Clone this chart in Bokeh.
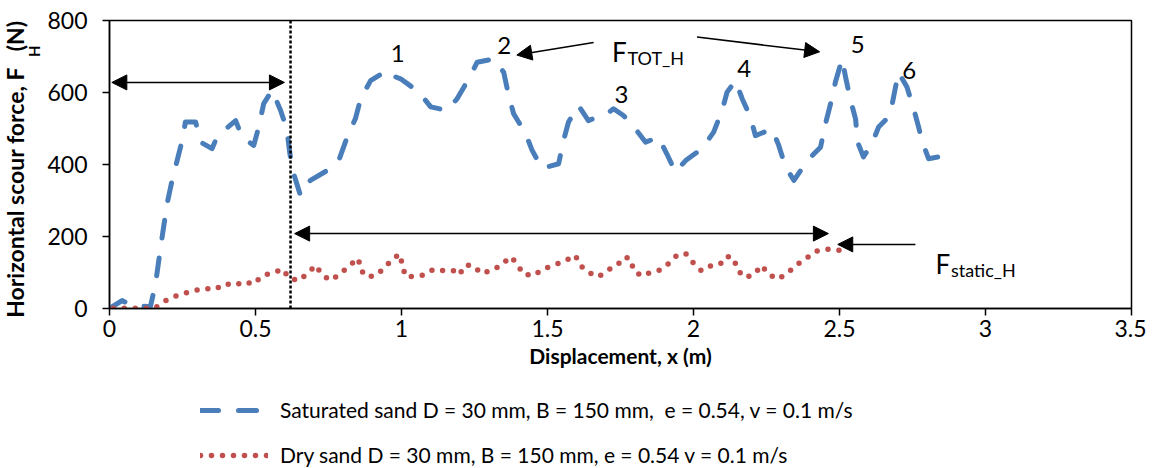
from bokeh.plotting import figure
from bokeh.layouts import column
from bokeh.models import (Range1d, Span, Arrow, NormalHead, Label, Legend, LegendItem,
                          FixedTicker, NumeralTickFormatter, Title)
from bokeh.embed import file_html
from bokeh.resources import INLINE

# ---------------- data ----------------
sat_x = [0, 0.043, 0.078, 0.14, 0.158, 0.175, 0.197, 0.214, 0.23, 0.249, 0.26, 0.295, 0.312,
         0.351, 0.368, 0.386, 0.432, 0.454, 0.494, 0.511, 0.528, 0.557, 0.586, 0.607, 0.618,
         0.629, 0.654, 0.688, 0.745, 0.785, 0.814, 0.842, 0.86, 0.894, 0.951, 0.968, 0.997,
         1.06, 1.10, 1.156, 1.19, 1.23, 1.259, 1.316, 1.35, 1.367, 1.384, 1.425, 1.447, 1.481,
         1.538, 1.555, 1.572, 1.606, 1.640, 1.703, 1.726, 1.760, 1.801, 1.836, 1.88, 1.909,
         1.938, 1.973, 2.029, 2.069, 2.098, 2.115, 2.144, 2.167, 2.195, 2.212, 2.269, 2.292,
         2.315, 2.344, 2.39, 2.435, 2.452, 2.475, 2.486, 2.509, 2.521, 2.538, 2.555, 2.562,
         2.582, 2.611, 2.634, 2.673, 2.685, 2.702, 2.731, 2.754, 2.771, 2.782, 2.805, 2.839,
         2.856, 2.862]
sat_y = [0, 22, 8, 5, 70, 170, 290, 355, 406, 467, 518, 518, 462,
         444, 476, 490, 522, 476, 453, 504, 569, 606, 550, 499, 429,
         379, 314, 356, 383, 411, 476, 527, 582, 633, 661, 647, 638,
         601, 560, 550, 582, 638, 684, 693, 656, 592, 541, 486, 440, 389,
         402, 467, 518, 564, 522, 541, 555, 536, 499, 462, 476, 429,
         379, 411, 444, 490, 550, 601, 633, 582, 532, 480, 499, 453,
         393, 356, 411, 448, 513, 587, 629, 693, 642, 578, 527, 462,
         421, 458, 504, 536, 587, 656, 615, 555, 504, 467, 416, 421,
         448, 458]

dry_x = [0.013, 0.035, 0.075, 0.115, 0.155, 0.184, 0.212, 0.247, 0.283, 0.321, 0.361, 0.395,
         0.428, 0.462, 0.492, 0.523, 0.558, 0.595, 0.612, 0.647, 0.676, 0.707, 0.726, 0.757,
         0.789, 0.820, 0.852, 0.861, 0.883, 0.915, 0.945, 0.973, 0.997, 1.002, 1.017, 1.043,
         1.075, 1.11, 1.144, 1.176, 1.197, 1.219, 1.249, 1.271, 1.307, 1.342, 1.373, 1.396,
         1.416, 1.451, 1.484, 1.519, 1.558, 1.595, 1.613, 1.644, 1.675, 1.707, 1.736, 1.765,
         1.785, 1.795, 1.826, 1.852, 1.882, 1.915, 1.943, 1.973, 1.998, 2.027, 2.062, 2.092,
         2.111, 2.137, 2.151, 2.175, 2.207, 2.233, 2.258, 2.29, 2.324, 2.355, 2.387, 2.419,
         2.458, 2.5]
dry_y = [1, 1, 1, 1, 1, 18, 30, 40, 48, 56, 53, 69,
         64, 75, 67, 90, 100, 109, 86, 77, 96, 120, 95, 78,
         95, 118, 139, 106, 87, 93, 116, 141, 150, 116, 87, 90,
         93, 109, 105, 106, 93, 121, 118, 98, 105, 121, 144, 125,
         96, 91, 109, 120, 131, 148, 119, 99, 88, 107, 118, 143,
         137, 104, 90, 100, 106, 125, 148, 153, 128, 105, 120, 124,
         145, 141, 107, 86, 94, 120, 94, 81, 100, 122, 140, 159,
         165, 162]

peak_labels = ["1", "2", "3", "4", "5", "6"]
peak_x = [0.987, 1.352, 1.753, 2.174, 2.562, 2.739]
peak_y = [708, 730, 594, 666, 734, 662]

x_ticks = [0, 0.5, 1, 1.5, 2, 2.5, 3, 3.5]
y_ticks = [0, 200, 400, 600, 800]

sat_label = "Saturated sand D = 30 mm, B = 150 mm,  e = 0.54, v = 0.1 m/s"
dry_label = "Dry sand D = 30 mm, B = 150 mm, e = 0.54 v = 0.1 m/s"
x_title = "Displacement, x (m)"
y_title = "Horizontal scour force, F\u00a0\u00a0\u00a0(N)"   # gap holds the subscript
y_title_sub = "H"

FONT = "Lato"
BLUE = "#4A7EBB"
RED = "#C0504D"

MAIN_H = 385
LEFT = 109
RIGHT = 15

# ---------------- main figure ----------------
p = figure(frame_width=1022, frame_height=288,
           x_range=Range1d(0, 3.5), y_range=Range1d(0, 800),
           output_backend="svg", toolbar_location=None,
           min_border_left=LEFT, min_border_right=RIGHT, min_border_top=20,
           min_border_bottom=MAIN_H - 20 - 288)
p.background_fill_color = "white"
p.border_fill_color = "white"
p.outline_line_color = "black"
p.outline_line_width = 1.5
p.xgrid.visible = False
p.ygrid.visible = False

p.xaxis.ticker = FixedTicker(ticks=x_ticks)
p.xaxis.formatter = NumeralTickFormatter(format="0.[0]")
p.yaxis.ticker = FixedTicker(ticks=y_ticks)
for ax in (p.xaxis, p.yaxis):
    ax.axis_line_color = "black"
    ax.axis_line_width = 1.5
    ax.major_tick_line_color = "black"
    ax.major_tick_line_width = 1.5
    ax.major_tick_in = 0
    ax.major_tick_out = 7
    ax.minor_tick_line_color = None
    ax.major_label_text_font = FONT
    ax.major_label_text_font_size = "23px"
    ax.major_label_text_color = "black"
p.yaxis.major_label_standoff = 15
p.xaxis.major_label_standoff = 4
p.xaxis.axis_label = x_title
p.xaxis.axis_label_text_font = FONT
p.xaxis.axis_label_text_font_style = "bold"
p.xaxis.axis_label_text_font_size = "21px"
p.xaxis.axis_label_text_color = "black"
p.xaxis.axis_label_standoff = 3

# y-axis title: subscript column next to the axis, main text outside it
p.add_layout(Title(text=y_title_sub, align="right", offset=25, standoff=0,
                   vertical_align="top", text_font=FONT, text_font_size="15px",
                   text_font_style="bold", text_color="black"), "left")
p.add_layout(Title(text=y_title, align="right", offset=0, standoff=-8,
                   text_font=FONT, text_font_size="23px",
                   text_font_style="bold", text_color="black"), "left")

# ---------------- series ----------------
sat_style = dict(line_color=BLUE, line_width=5, line_dash="18 20", line_cap="round",
                 line_join="round")
dry_style = dict(line_color=RED, line_width=5.5, line_dash="0 11", line_cap="round",
                 line_join="round")
p.line(sat_x, sat_y, **sat_style)
p.line(dry_x, dry_y, **dry_style)

# vertical dotted line
p.add_layout(Span(location=0.62, dimension="height", line_color="black",
                  line_width=2.5, line_dash="3 2"))

# ---------------- arrows ----------------
def head():
    return NormalHead(size=15, fill_color="black", line_color="black", line_width=1)

arrow_kw = dict(line_color="black", line_width=1.5)
p.add_layout(Arrow(start=head(), end=head(), x_start=0.008, y_start=628,
                   x_end=0.599, y_end=628, **arrow_kw))
p.add_layout(Arrow(start=head(), end=head(), x_start=0.634, y_start=208,
                   x_end=2.462, y_end=208, **arrow_kw))
p.add_layout(Arrow(end=head(), x_start=2.76, y_start=178, x_end=2.494, y_end=178, **arrow_kw))
p.add_layout(Arrow(end=head(), x_start=1.658, y_start=739, x_end=1.395, y_end=704, **arrow_kw))
p.add_layout(Arrow(end=head(), x_start=2.012, y_start=754, x_end=2.432, y_end=713, **arrow_kw))

# ---------------- text annotations ----------------
for t, x, y in zip(peak_labels, peak_x, peak_y):
    p.add_layout(Label(x=x, y=y, text=t, text_font=FONT, text_font_size="24px",
                       text_align="center", text_baseline="middle", text_color="black"))

p.add_layout(Label(x=1.771, y=712, text="F", text_font=FONT, text_font_size="26px",
                   text_align="right", text_baseline="alphabetic", text_color="black"))
p.add_layout(Label(x=1.774, y=695, text="TOT_H", text_font=FONT, text_font_size="18px",
                   text_align="left", text_baseline="alphabetic", text_color="black"))
p.add_layout(Label(x=2.879, y=125, text="F", text_font=FONT, text_font_size="26px",
                   text_align="right", text_baseline="alphabetic", text_color="black"))
p.add_layout(Label(x=2.882, y=108, text="static_H", text_font=FONT, text_font_size="18px",
                   text_align="left", text_baseline="alphabetic", text_color="black"))

# ---------------- legend (separate panel below, frame aligned with the plot) ----------------
LEG_W = LEFT + 1022 + RIGHT
LEG_H = 83
# ranges kept away from the data so the proxy renderers only feed the legend
lfig = figure(width=LEG_W, height=LEG_H, x_range=Range1d(-2 * LEG_W, -LEG_W),
              y_range=Range1d(-2 * LEG_H, -LEG_H),
              output_backend="svg", toolbar_location=None, min_border=0,
              outline_line_color=None)
lfig.axis.visible = False
lfig.grid.visible = False
lfig.border_fill_color = "white"
l_sat = lfig.line(sat_x, sat_y, **sat_style)
l_dry = lfig.line(dry_x, dry_y, **dry_style)
legend = Legend(items=[LegendItem(label=sat_label, renderers=[l_sat]),
                       LegendItem(label=dry_label, renderers=[l_dry])],
                location=(91, 1), orientation="vertical",
                label_text_font=FONT, label_text_font_size="21px", label_text_color="black",
                glyph_width=68, glyph_height=24, label_standoff=12, spacing=20,
                padding=0, margin=0, border_line_color=None, background_fill_alpha=0)
lfig.add_layout(legend)

layout = column(p, lfig)
open("out.html", "w").write(file_html(layout, INLINE))
